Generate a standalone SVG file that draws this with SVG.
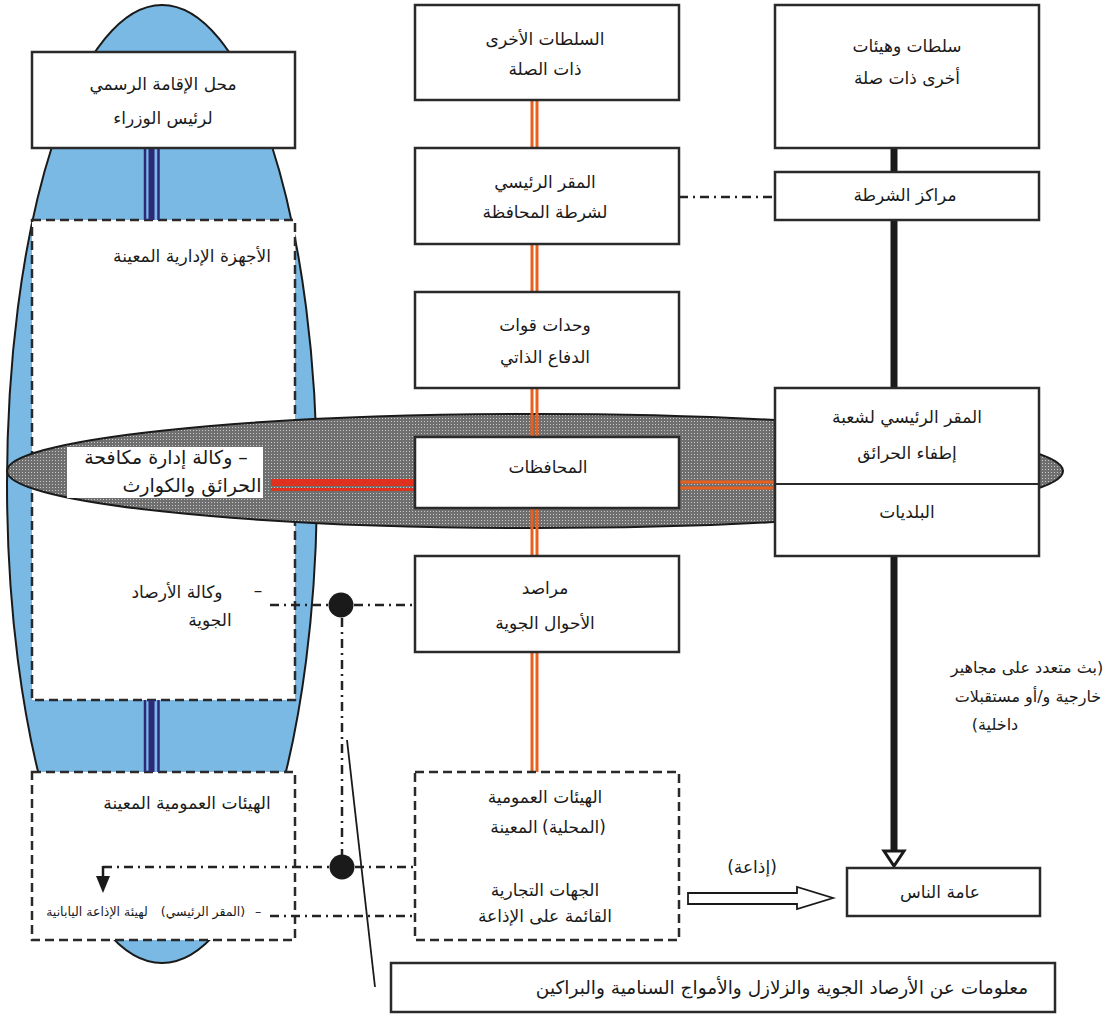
<svg xmlns="http://www.w3.org/2000/svg" width="1111" height="1014" viewBox="0 0 1111 1014">
  <style>
    .box { fill: #ffffff; stroke: #2a2a2a; stroke-width: 2.5; }
    .dbox { fill: #ffffff; stroke: #2a2a2a; stroke-width: 2.5; stroke-dasharray: 9 5; }
    .t { font-family: "DejaVu Sans", sans-serif; font-size: 17px; fill: #1a1a1a; text-anchor: middle; direction: rtl; }
    .tl { font-family: "DejaVu Sans", sans-serif; font-size: 19px; fill: #1a1a1a; text-anchor: middle; direction: rtl; }
    .tn { font-family: "DejaVu Sans", sans-serif; font-size: 16px; fill: #1a1a1a; text-anchor: middle; direction: rtl; }
    .ts { font-family: "DejaVu Sans", sans-serif; font-size: 12.5px; fill: #1a1a1a; text-anchor: middle; direction: rtl; }
    .orange { stroke: #e8601c; stroke-width: 3; fill: none; }
    .navy { stroke: #2e2878; fill: none; }
    .dashdot { stroke: #222222; stroke-width: 2.5; stroke-dasharray: 9 5 2 5; fill: none; }
    .black { stroke: #1a1a1a; stroke-width: 7; fill: none; }
  </style>
  <defs>
    <pattern id="dots" width="3" height="3" patternUnits="userSpaceOnUse">
      <rect width="3" height="3" fill="#6f6f6f"/>
      <rect x="1" y="1" width="1" height="1" fill="#c9c9c9"/>
    </pattern>
  </defs>

  <!-- background shapes -->
  <ellipse cx="162" cy="484" rx="155" ry="479" fill="#79b9e4" stroke="#1a1a1a" stroke-width="2"/>

  <!-- dashed groupings on the left -->
  <g id="admin-bodies">
    <rect class="dbox" x="32" y="220" width="263" height="480"/>
    <text class="t" x="192" y="262">الأجهزة الإدارية المعينة</text>
  </g>
  <g id="public-bodies">
    <rect class="dbox" x="32" y="772" width="263" height="168"/>
    <text class="t" x="187" y="809">الهيئات العمومية المعينة</text>
    <text class="ts" x="203" y="916">(المقر الرئيسي)</text>
    <text class="ts" x="97" y="916">لهيئة الإذاعة اليابانية</text>
    <text class="ts" x="258" y="916">–</text>
  </g>

  <!-- grey band across the middle -->
  <ellipse cx="535" cy="471" rx="528" ry="57" fill="url(#dots)" stroke="#1a1a1a" stroke-width="2"/>

  <!-- connectors -->
  <g id="connectors">
    <!-- blue triple links on the left column -->
    <g class="navy">
      <line x1="145" y1="148" x2="145" y2="220" stroke-width="2.5"/>
      <line x1="151.5" y1="148" x2="151.5" y2="220" stroke-width="6"/>
      <line x1="158.5" y1="148" x2="158.5" y2="220" stroke-width="2.5"/>
      <line x1="145" y1="700" x2="145" y2="772" stroke-width="2.5"/>
      <line x1="151.5" y1="700" x2="151.5" y2="772" stroke-width="6"/>
      <line x1="158.5" y1="700" x2="158.5" y2="772" stroke-width="2.5"/>
    </g>
    <!-- orange double links in the middle column -->
    <g class="orange">
      <line x1="532" y1="100" x2="532" y2="148"/><line x1="537" y1="100" x2="537" y2="148"/>
      <line x1="532" y1="244" x2="532" y2="292"/><line x1="537" y1="244" x2="537" y2="292"/>
      <line x1="532" y1="388" x2="532" y2="437"/><line x1="537" y1="388" x2="537" y2="437"/>
      <line x1="532" y1="508" x2="532" y2="556"/><line x1="537" y1="508" x2="537" y2="556"/>
      <line x1="532" y1="652" x2="532" y2="772"/><line x1="537" y1="652" x2="537" y2="772"/>
      <line x1="679" y1="482" x2="775" y2="482"/><line x1="679" y1="488" x2="775" y2="488"/>
    </g>
    <!-- red link to the fire and disaster agency -->
    <line x1="271" y1="482.5" x2="415" y2="482.5" stroke="#e0301e" stroke-width="7"/>
    <line x1="271" y1="489.5" x2="415" y2="489.5" stroke="#e0301e" stroke-width="3"/>
    <!-- thick black line on the right column -->
    <line class="black" x1="894" y1="148" x2="894" y2="172"/>
    <line class="black" x1="894" y1="220" x2="894" y2="388"/>
    <line class="black" x1="894" y1="556" x2="894" y2="850"/>
    <polygon points="884,851 904,851 894,866" fill="#ffffff" stroke="#1a1a1a" stroke-width="3"/>
    <!-- dash-dot links -->
    <line class="dashdot" x1="679" y1="197" x2="775" y2="197"/>
    <line class="dashdot" x1="270" y1="605" x2="415" y2="605"/>
    <line class="dashdot" x1="342" y1="618" x2="342" y2="867"/>
    <line class="dashdot" x1="103" y1="867" x2="424" y2="867"/>
    <polygon points="425,859 439,867 425,875" fill="#1a1a1a"/>
    <line x1="103" y1="866" x2="103" y2="878" stroke="#1a1a1a" stroke-width="2.5"/>
    <polygon points="96,876 110,876 103,893" fill="#1a1a1a"/>
    <line class="dashdot" x1="270" y1="916" x2="415" y2="916"/>
    <circle cx="341" cy="605" r="12.5" fill="#1a1a1a"/>
    <circle cx="342" cy="867" r="12.5" fill="#1a1a1a"/>
    <!-- thin pointer line to the information box -->
    <line x1="347" y1="740" x2="375" y2="987" stroke="#1a1a1a" stroke-width="1.8"/>
    <!-- broadcast arrow -->
    <polygon points="688,893 797,893 797,887 833,898 797,909 797,904 688,904" fill="#ffffff" stroke="#1a1a1a" stroke-width="1.8"/>
    <text class="t" x="752" y="873">(إذاعة)</text>
  </g>

  <!-- nodes -->
  <g id="pm-residence">
    <rect class="box" x="32" y="52" width="263" height="96"/>
    <text class="t" x="163" y="90">محل الإقامة الرسمي</text>
    <text class="t" x="163" y="124">لرئيس الوزراء</text>
  </g>
  <g id="other-authorities">
    <rect class="box" x="415" y="5" width="264" height="95"/>
    <text class="t" x="545" y="45">السلطات الأخرى</text>
    <text class="t" x="545" y="75">ذات الصلة</text>
  </g>
  <g id="prefectural-police">
    <rect class="box" x="415" y="148" width="264" height="96"/>
    <text class="t" x="545" y="188">المقر الرئيسي</text>
    <text class="t" x="545" y="218">لشرطة المحافظة</text>
  </g>
  <g id="sdf-units">
    <rect class="box" x="415" y="292" width="264" height="96"/>
    <text class="t" x="545" y="331">وحدات قوات</text>
    <text class="t" x="545" y="363">الدفاع الذاتي</text>
  </g>
  <g id="prefectures">
    <rect class="box" x="415" y="437" width="264" height="71"/>
    <text class="t" x="548" y="473">المحافظات</text>
  </g>
  <g id="observatories">
    <rect class="box" x="415" y="556" width="264" height="96"/>
    <text class="t" x="545" y="594">مراصد</text>
    <text class="t" x="545" y="629">الأحوال الجوية</text>
  </g>
  <g id="local-bodies">
    <rect class="dbox" x="415" y="772" width="264" height="168"/>
    <text class="t" x="545" y="803">الهيئات العمومية</text>
    <text class="t" x="574" y="833">(المحلية)</text>
    <text class="t" x="514" y="833">المعينة</text>
    <text class="t" x="545" y="896">الجهات التجارية</text>
    <text class="t" x="545" y="922">القائمة على الإذاعة</text>
  </g>
  <g id="fire-agency">
    <rect x="67" y="447" width="196" height="51" fill="#ffffff"/>
    <text class="tl" x="166" y="464">–  وكالة إدارة مكافحة</text>
    <text class="tl" x="192" y="492">الحرائق والكوارث</text>
  </g>
  <g id="jma">
    <text class="t" x="258" y="596">–</text>
    <text class="t" x="177" y="598">وكالة الأرصاد</text>
    <text class="t" x="210" y="626">الجوية</text>
  </g>
  <g id="related-bodies">
    <rect class="box" x="775" y="5" width="264" height="143"/>
    <text class="t" x="907" y="52">سلطات وهيئات</text>
    <text class="t" x="907" y="84">أخرى ذات صلة</text>
  </g>
  <g id="police-stations">
    <rect class="box" x="775" y="172" width="264" height="48"/>
    <text class="t" x="905" y="201">مراكز الشرطة</text>
  </g>
  <g id="fire-dept-municipalities">
    <rect class="box" x="775" y="388" width="264" height="168"/>
    <line x1="775" y1="484" x2="1039" y2="484" stroke="#2a2a2a" stroke-width="2"/>
    <text class="t" x="907" y="423">المقر الرئيسي لشعبة</text>
    <text class="t" x="907" y="459">إطفاء الحرائق</text>
    <text class="t" x="907" y="518">البلديات</text>
  </g>
  <g id="broadcast-note">
    <text class="tn" x="1027" y="673">(بث متعدد على مجاهير</text>
    <text class="tn" x="1028" y="702">خارجية و/أو مستقبلات</text>
    <text class="tn" x="995" y="730">داخلية)</text>
  </g>
  <g id="general-public">
    <rect class="box" x="847" y="868" width="193" height="48"/>
    <text class="t" x="940" y="898">عامة الناس</text>
  </g>
  <g id="info-box">
    <rect class="box" x="391" y="963" width="664" height="49"/>
    <text class="t" x="782" y="994" style="font-size:18.5px">معلومات عن الأرصاد الجوية والزلازل والأمواج السنامية والبراكين</text>
  </g>
</svg>
